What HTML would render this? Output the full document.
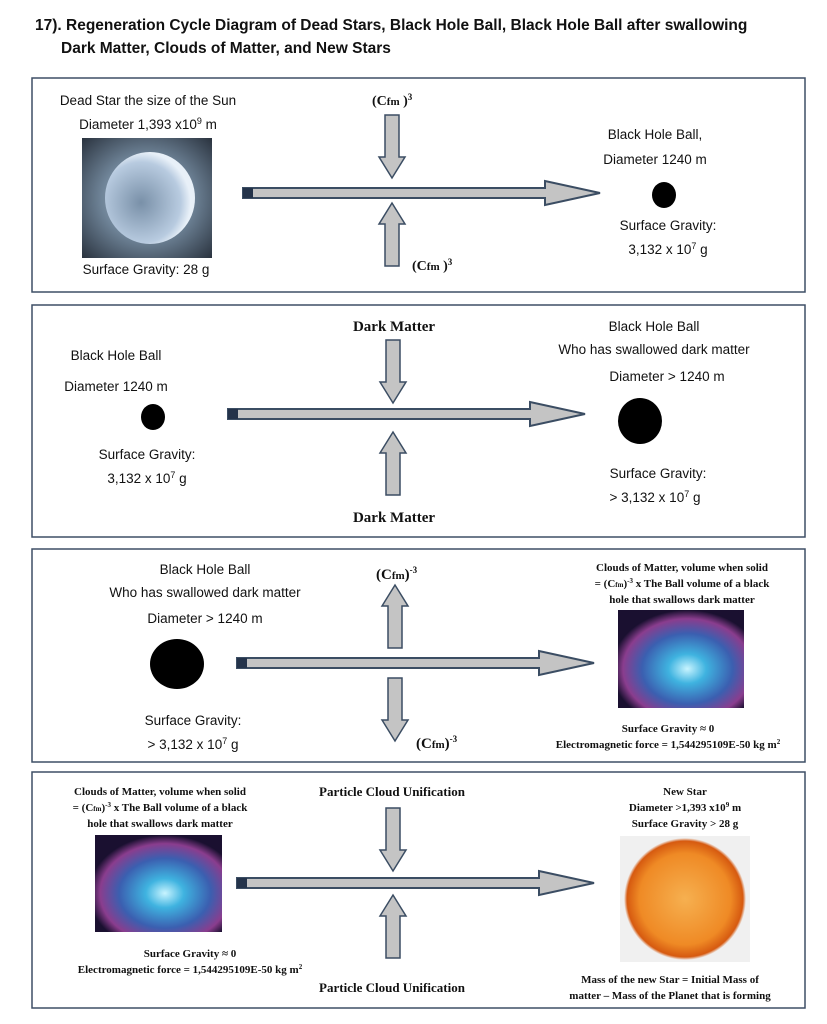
<!DOCTYPE html>
<html><head><meta charset="utf-8"><style>
html,body{margin:0;padding:0;background:#fff}
svg{display:block}
.s{font-family:"Liberation Sans",sans-serif;font-size:13.5px;fill:#111}
.b{font-family:"Liberation Serif",serif;font-weight:bold;fill:#111}
</style></head><body>
<svg width="827" height="1024" viewBox="0 0 827 1024" xmlns="http://www.w3.org/2000/svg">
<defs>
<radialGradient id="ds" cx="50%" cy="50%" r="70%"><stop offset="0" stop-color="#b9c7d4"/><stop offset="0.5" stop-color="#6f8498"/><stop offset="1" stop-color="#2b3440"/></radialGradient>
<radialGradient id="orb" cx="40%" cy="55%" r="55%"><stop offset="0" stop-color="#7990a8"/><stop offset="0.8" stop-color="#b8cbe0"/><stop offset="1" stop-color="#e8f0f8"/></radialGradient>
<radialGradient id="cl" cx="55%" cy="60%" r="60%"><stop offset="0" stop-color="#c8f4ff"/><stop offset="0.25" stop-color="#3fb3e0"/><stop offset="0.6" stop-color="#3b5fb0"/><stop offset="0.85" stop-color="#8a3d8e"/><stop offset="1" stop-color="#1a1030"/></radialGradient>
<radialGradient id="sun" cx="50%" cy="50%" r="50%"><stop offset="0" stop-color="#f6b050"/><stop offset="0.75" stop-color="#ef8a25"/><stop offset="0.95" stop-color="#d65a10"/><stop offset="1" stop-color="#f0f0f0"/></radialGradient>
<g id="harr"><path d="M0,-5 L302,-5 L302,-12 L357,0 L302,12 L302,5 L0,5 Z" fill="#c4c4c4" stroke="#3b4d63" stroke-width="2"/><rect x="0" y="-5" width="10" height="10" fill="#24334a"/></g>
<g id="darr"><path d="M-7,0 L7,0 L7,42 L13,42 L0,63 L-13,42 L-7,42 Z" fill="#c4c4c4" stroke="#3b4d63" stroke-width="1.5"/></g>
<g id="uarr"><path d="M-7,63 L7,63 L7,21 L13,21 L0,0 L-13,21 L-7,21 Z" fill="#c4c4c4" stroke="#3b4d63" stroke-width="1.5"/></g>
</defs>
<text class="s" x="35" y="30" style="font-weight:bold;font-size:15.5px">17). Regeneration Cycle Diagram of Dead Stars, Black Hole Ball, Black Hole Ball  after swallowing</text>
<text class="s" x="61" y="53" style="font-weight:bold;font-size:15.5px">Dark Matter, Clouds of Matter, and New Stars</text>

<g fill="none" stroke="#3e4f66" stroke-width="1.5">
<rect x="32" y="78" width="773" height="214"/>
<rect x="32" y="305" width="773" height="232"/>
<rect x="32" y="549" width="773" height="213"/>
<rect x="32" y="772" width="773" height="236"/>
</g>

<!-- Panel 1 -->
<text class="s" x="148" y="105" text-anchor="middle">Dead Star the size of the Sun</text>
<text class="s" x="148" y="129" text-anchor="middle">Diameter 1,393 x10<tspan font-size="9" dy="-5">9</tspan><tspan dy="5"> m</tspan></text>
<rect x="82" y="138" width="130" height="120" fill="url(#ds)"/>
<ellipse cx="150" cy="198" rx="45" ry="46" fill="url(#orb)"/>
<text class="s" x="146" y="274" text-anchor="middle">Surface Gravity: 28 g</text>
<text class="b" x="372" y="105" font-size="14">(C<tspan font-size="11">fm</tspan> )<tspan font-size="9" dy="-5">3</tspan></text>
<use href="#darr" x="392" y="115"/>
<use href="#harr" x="243" y="193"/>
<use href="#uarr" x="392" y="203"/>
<text class="b" x="412" y="270" font-size="14">(C<tspan font-size="11">fm</tspan> )<tspan font-size="9" dy="-5">3</tspan></text>
<text class="s" x="655" y="139" text-anchor="middle">Black Hole Ball,</text>
<text class="s" x="655" y="164" text-anchor="middle">Diameter 1240 m</text>
<ellipse cx="664" cy="195" rx="12" ry="13" fill="#000"/>
<text class="s" x="668" y="230" text-anchor="middle">Surface Gravity:</text>
<text class="s" x="668" y="254" text-anchor="middle">3,132 x 10<tspan font-size="9" dy="-5">7</tspan><tspan dy="5"> g</tspan></text>

<!-- Panel 2 -->
<text class="s" x="116" y="360" text-anchor="middle">Black Hole Ball</text>
<text class="s" x="116" y="391" text-anchor="middle">Diameter 1240 m</text>
<ellipse cx="153" cy="417" rx="12" ry="13" fill="#000"/>
<text class="s" x="147" y="459" text-anchor="middle">Surface Gravity:</text>
<text class="s" x="147" y="483" text-anchor="middle">3,132 x 10<tspan font-size="9" dy="-5">7</tspan><tspan dy="5"> g</tspan></text>
<text class="b" x="394" y="331" font-size="15" text-anchor="middle">Dark Matter</text>
<use href="#darr" x="393" y="340"/>
<use href="#harr" x="228" y="414"/>
<use href="#uarr" x="393" y="432"/>
<text class="b" x="394" y="522" font-size="15" text-anchor="middle">Dark Matter</text>
<text class="s" x="654" y="331" text-anchor="middle">Black Hole Ball</text>
<text class="s" x="654" y="354" text-anchor="middle">Who has swallowed dark matter</text>
<text class="s" x="667" y="381" text-anchor="middle">Diameter &gt; 1240 m</text>
<ellipse cx="640" cy="421" rx="22" ry="23" fill="#000"/>
<text class="s" x="658" y="478" text-anchor="middle">Surface Gravity:</text>
<text class="s" x="655" y="502" text-anchor="middle">&gt; 3,132 x 10<tspan font-size="9" dy="-5">7</tspan><tspan dy="5"> g</tspan></text>

<!-- Panel 3 -->
<text class="s" x="205" y="574" text-anchor="middle">Black Hole Ball</text>
<text class="s" x="205" y="597" text-anchor="middle">Who has swallowed dark matter</text>
<text class="s" x="205" y="623" text-anchor="middle">Diameter &gt; 1240 m</text>
<ellipse cx="177" cy="664" rx="27" ry="25" fill="#000"/>
<text class="s" x="193" y="725" text-anchor="middle">Surface Gravity:</text>
<text class="s" x="193" y="749" text-anchor="middle">&gt; 3,132 x 10<tspan font-size="9" dy="-5">7</tspan><tspan dy="5"> g</tspan></text>
<text class="b" x="376" y="579" font-size="15">(C<tspan font-size="11">fm</tspan>)<tspan font-size="9" dy="-6">-3</tspan></text>
<use href="#uarr" x="395" y="585"/>
<use href="#harr" x="237" y="663"/>
<use href="#darr" x="395" y="678"/>
<text class="b" x="416" y="748" font-size="15">(C<tspan font-size="11">fm</tspan>)<tspan font-size="9" dy="-6">-3</tspan></text>
<text class="b" x="682" y="571" font-size="11" text-anchor="middle">Clouds of Matter, volume when solid</text>
<text class="b" x="682" y="587" font-size="11" text-anchor="middle">= (C<tspan font-size="7">fm</tspan>)<tspan font-size="7" dy="-4">-3</tspan><tspan dy="4">  x The Ball volume of a black</tspan></text>
<text class="b" x="682" y="603" font-size="11" text-anchor="middle">hole that swallows dark matter</text>
<rect x="618" y="610" width="126" height="98" fill="url(#cl)"/>
<text class="b" x="668" y="732" font-size="11" text-anchor="middle">Surface Gravity ≈ 0</text>
<text class="b" x="668" y="748" font-size="11" text-anchor="middle">Electromagnetic force = 1,544295109E-50 kg m<tspan font-size="7" dy="-4">2</tspan></text>

<!-- Panel 4 -->
<text class="b" x="160" y="795" font-size="11" text-anchor="middle">Clouds of Matter, volume when solid</text>
<text class="b" x="160" y="811" font-size="11" text-anchor="middle">= (C<tspan font-size="7">fm</tspan>)<tspan font-size="7" dy="-4">-3</tspan><tspan dy="4">  x The Ball volume of a black</tspan></text>
<text class="b" x="160" y="827" font-size="11" text-anchor="middle">hole that swallows dark matter</text>
<rect x="95" y="835" width="127" height="97" fill="url(#cl)"/>
<text class="b" x="190" y="957" font-size="11" text-anchor="middle">Surface Gravity ≈ 0</text>
<text class="b" x="190" y="973" font-size="11" text-anchor="middle">Electromagnetic force = 1,544295109E-50 kg m<tspan font-size="7" dy="-4">2</tspan></text>
<text class="b" x="392" y="796" font-size="13" text-anchor="middle">Particle Cloud Unification</text>
<use href="#darr" x="393" y="808"/>
<use href="#harr" x="237" y="883"/>
<use href="#uarr" x="393" y="895"/>
<text class="b" x="392" y="992" font-size="13" text-anchor="middle">Particle Cloud Unification</text>
<text class="b" x="685" y="795" font-size="11" text-anchor="middle">New Star</text>
<text class="b" x="685" y="811" font-size="11" text-anchor="middle">Diameter &gt;1,393 x10<tspan font-size="7" dy="-4">9</tspan><tspan dy="4"> m</tspan></text>
<text class="b" x="685" y="827" font-size="11" text-anchor="middle">Surface Gravity  &gt; 28 g</text>
<rect x="620" y="836" width="130" height="126" fill="#f0f0f0"/>
<circle cx="685" cy="899" r="61" fill="url(#sun)"/>
<text class="b" x="670" y="983" font-size="11" text-anchor="middle">Mass of the new Star = Initial Mass of</text>
<text class="b" x="670" y="999" font-size="11" text-anchor="middle">matter – Mass of the Planet that is forming</text>
</svg>
</body></html>
